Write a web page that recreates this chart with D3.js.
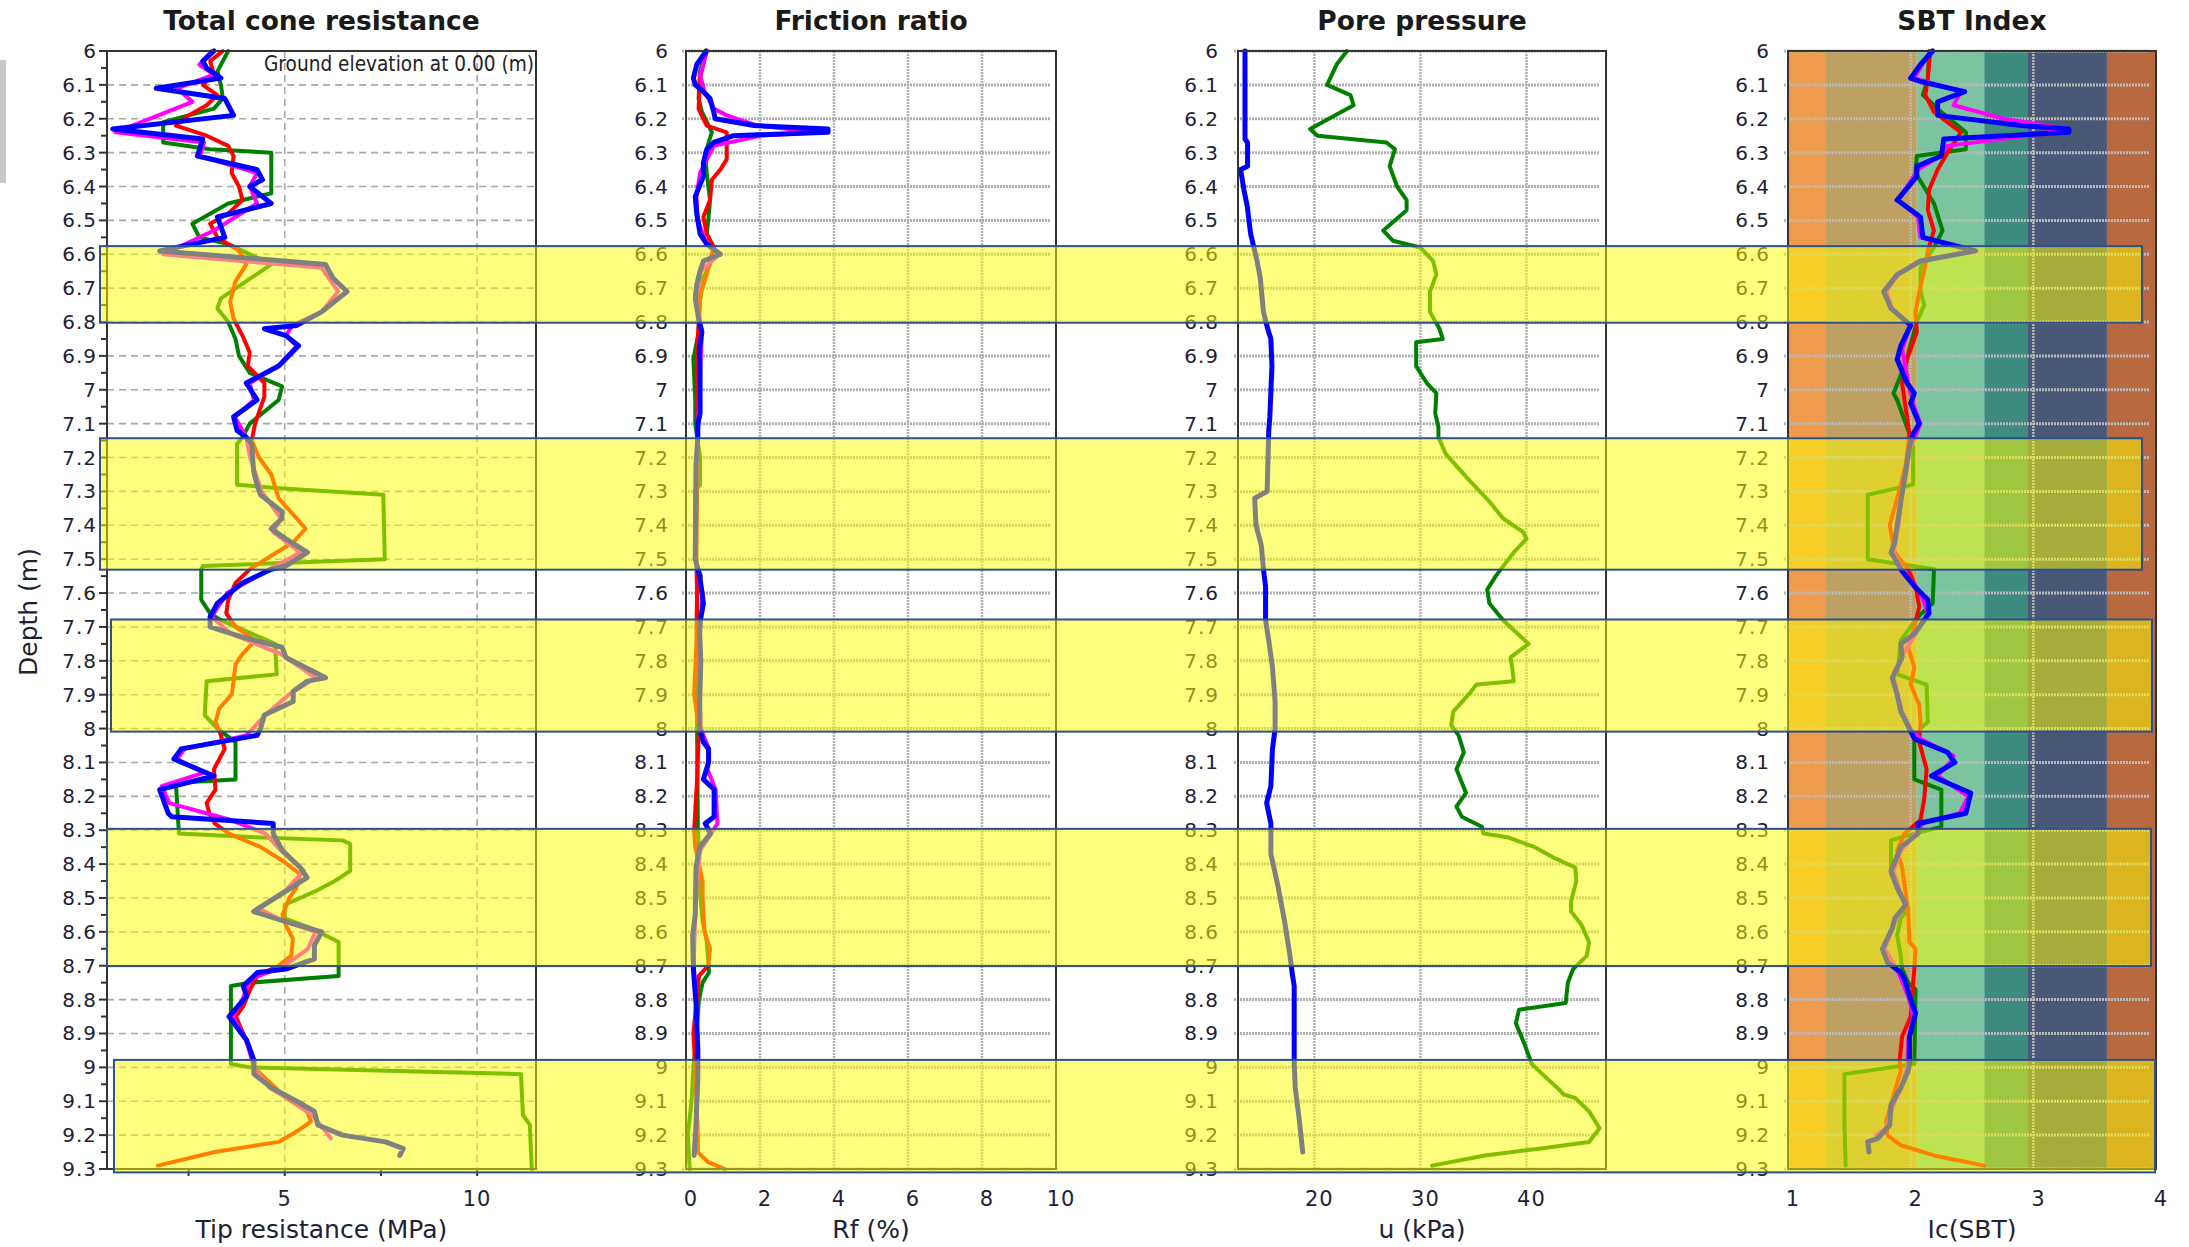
<!DOCTYPE html>
<html><head><meta charset="utf-8">
<script src="https://cdn.jsdelivr.net/npm/d3@7"></script>
<style>
body{margin:0;background:#fff;}
svg{display:block;}
text{font-family:"DejaVu Sans",Verdana,sans-serif;}
</style>
</head><body>
<script>
// ---------------- DATA ----------------
const depthDomain = [6, 9.3];
const depthTicks = [6,6.1,6.2,6.3,6.4,6.5,6.6,6.7,6.8,6.9,7,7.1,7.2,7.3,7.4,7.5,7.6,7.7,7.8,7.9,8,8.1,8.2,8.3,8.4,8.5,8.6,8.7,8.8,8.9,9,9.1,9.2,9.3];
const depthMinorTicks = [6.05,6.15,6.25,6.35,6.45,6.55,6.65,6.75,6.85,6.95,7.05,7.15,7.25,7.35,7.45,7.55,7.65,7.75,7.85,7.95,8.05,8.15,8.25,8.35,8.45,8.55,8.65,8.75,8.85,8.95,9.05,9.15,9.25];

const panelTitles = ["Total cone resistance","Friction ratio","Pore pressure","SBT Index"];
const axisTitles = ["Tip resistance (MPa)","Rf (%)","u (kPa)","Ic(SBT)"];
const noteText = "Ground elevation at 0.00 (m)";

const qtDomain = [0.38, 11.53];
const qtTickLabels = [5, 10];
const qtTickMarks = [2.5, 5, 7.5, 10];
const rfDomain = [0, 10];
const rfTickLabels = [0, 2, 4, 6, 8, 10];
const uDomain = [12.8, 47.5];
const uTickLabels = [20, 30, 40];
const icDomain = [1, 4];
const icTickLabels = [1, 2, 3, 4];

// SBT zone boundaries (Ic)
const icZoneBounds = [1, 1.31, 2.05, 2.6, 2.95, 3.6, 4];

// highlighted layers [top depth, bottom depth]
const layers = [[6.576,6.802],[7.143,7.531],[7.678,8.009],[8.296,8.701],[8.978,9.310]];

// Total cone resistance (MPa) [depth, value]
const qtGreen = [[6.00,3.53],[6.06,3.25],[6.10,3.34],[6.14,3.39],[6.17,3.16],[6.21,1.84],[6.27,1.84],[6.29,3.06],[6.30,4.65],[6.42,4.65],[6.45,3.53],[6.51,2.60],[6.55,2.78],[6.57,3.53],[6.63,4.65],[6.73,3.34],[6.76,3.25],[6.80,3.53],[6.85,3.72],[6.90,3.81],[6.95,4.09],[6.99,4.93],[7.03,4.84],[7.10,4.09],[7.14,3.90],[7.16,3.76],[7.28,3.76],[7.29,4.75],[7.31,7.56],[7.50,7.60],[7.52,2.87],[7.53,2.83],[7.62,2.83],[7.66,3.06],[7.68,3.34],[7.75,4.75],[7.84,4.79],[7.86,2.97],[7.96,2.92],[8.00,3.25],[8.04,3.72],[8.15,3.72],[8.16,2.17],[8.31,2.25],[8.32,4.10],[8.33,6.50],[8.34,6.70],[8.42,6.70],[8.45,6.30],[8.48,5.80],[8.52,5.00],[8.56,5.00],[8.59,5.70],[8.63,6.40],[8.73,6.40],[8.75,4.10],[8.76,3.60],[8.99,3.60],[9.00,4.10],[9.02,11.14],[9.14,11.19],[9.17,11.37],[9.30,11.42]];
const qtRed = [[6.00,3.39],[6.03,3.06],[6.07,3.16],[6.10,2.87],[6.13,3.25],[6.16,2.97],[6.19,2.50],[6.22,2.17],[6.25,2.97],[6.28,3.53],[6.31,3.67],[6.36,3.62],[6.40,3.81],[6.44,3.90],[6.48,3.53],[6.51,3.06],[6.55,3.25],[6.59,3.81],[6.63,4.00],[6.68,3.72],[6.74,3.58],[6.79,3.67],[6.84,3.90],[6.89,4.09],[6.93,4.04],[6.98,4.47],[7.02,4.47],[7.10,4.23],[7.15,4.14],[7.20,4.33],[7.25,4.65],[7.32,4.84],[7.38,5.31],[7.41,5.54],[7.45,5.22],[7.49,4.65],[7.53,4.09],[7.57,3.72],[7.62,3.53],[7.66,3.48],[7.70,3.72],[7.74,4.23],[7.78,3.90],[7.81,3.72],[7.86,3.67],[7.90,3.62],[7.94,3.30],[7.98,3.20],[8.02,3.34],[8.06,3.44],[8.12,3.16],[8.18,3.20],[8.22,2.97],[8.25,3.04],[8.28,3.18],[8.31,3.55],[8.35,4.38],[8.39,4.94],[8.43,5.40],[8.47,5.30],[8.50,5.12],[8.55,4.94],[8.58,5.03],[8.62,5.21],[8.67,5.17],[8.70,4.84],[8.73,4.29],[8.77,4.10],[8.82,3.92],[8.85,3.73],[8.90,3.92],[8.95,4.10],[9.00,4.20],[9.05,4.66],[9.09,5.03],[9.13,5.58],[9.16,5.68],[9.19,5.30],[9.22,4.84],[9.25,3.18],[9.29,1.70]];
const qtMagenta = [[6.00,3.10],[6.04,2.78],[6.07,3.16],[6.11,2.20],[6.15,2.60],[6.24,0.60],[6.27,2.90],[6.31,2.80],[6.36,4.28],[6.40,4.09],[6.45,4.28],[6.53,3.16],[6.60,1.85],[6.64,5.96],[6.71,6.39],[6.77,5.96],[6.81,5.20],[6.84,5.03],[6.87,5.31],[6.93,4.84],[6.98,4.09],[7.03,4.20],[7.08,3.70],[7.14,4.00],[7.20,4.10],[7.30,4.40],[7.38,4.90],[7.42,4.70],[7.48,5.40],[7.53,4.60],[7.60,3.50],[7.67,3.10],[7.72,3.60],[7.78,4.90],[7.85,5.80],[7.90,5.10],[7.96,4.50],[8.02,4.00],[8.06,2.40],[8.09,2.20],[8.13,2.90],[8.17,1.80],[8.22,2.00],[8.27,3.60],[8.31,4.50],[8.36,4.90],[8.42,5.50],[8.48,5.00],[8.53,4.30],[8.57,5.00],[8.60,5.80],[8.65,5.60],[8.70,5.00],[8.74,4.10],[8.80,3.90],[8.85,3.65],[8.92,4.00],[9.00,4.20],[9.06,4.60],[9.10,5.20],[9.14,5.70],[9.18,6.00],[9.21,6.20]];
const qtBlue = [[6.00,3.16],[6.03,2.87],[6.05,2.97],[6.08,3.34],[6.11,1.66],[6.14,3.44],[6.19,3.67],[6.23,0.53],[6.26,2.87],[6.31,2.73],[6.35,4.28],[6.38,4.42],[6.40,4.09],[6.45,4.65],[6.49,3.25],[6.55,3.44],[6.59,1.75],[6.63,6.06],[6.67,6.25],[6.71,6.62],[6.77,5.96],[6.81,5.31],[6.82,4.47],[6.84,5.03],[6.87,5.36],[6.93,4.84],[6.98,4.00],[7.03,4.28],[7.08,3.67],[7.12,3.76],[7.14,4.00],[7.16,4.14],[7.24,4.19],[7.28,4.28],[7.31,4.37],[7.36,4.93],[7.38,4.93],[7.41,4.65],[7.44,5.03],[7.48,5.59],[7.52,5.03],[7.53,4.65],[7.57,3.90],[7.63,3.25],[7.67,3.06],[7.70,3.06],[7.73,3.90],[7.76,4.93],[7.79,5.03],[7.85,6.06],[7.86,5.59],[7.89,5.22],[7.92,5.22],[7.96,4.47],[8.00,4.37],[8.02,4.28],[8.06,2.31],[8.09,2.12],[8.14,3.16],[8.18,1.75],[8.24,1.94],[8.25,1.97],[8.26,2.06],[8.28,4.70],[8.31,4.70],[8.36,4.94],[8.41,5.40],[8.44,5.58],[8.48,5.03],[8.54,4.19],[8.57,5.03],[8.60,5.96],[8.64,5.77],[8.68,5.77],[8.71,5.03],[8.72,4.29],[8.76,3.92],[8.79,4.01],[8.85,3.55],[8.92,4.01],[8.98,4.20],[9.02,4.20],[9.06,4.66],[9.10,5.31],[9.13,5.77],[9.17,5.86],[9.20,6.50],[9.22,7.62],[9.24,8.08],[9.26,7.99]];

// Friction ratio (%)
const rfGreen = [[6.00,0.52],[6.06,0.38],[6.14,0.34],[6.18,0.43],[6.24,0.70],[6.27,0.61],[6.31,0.52],[6.36,0.56],[6.44,0.65],[6.49,0.61],[6.54,0.56],[6.58,0.75],[6.63,0.65],[6.67,0.47],[6.74,0.38],[6.83,0.34],[6.91,0.20],[7.03,0.25],[7.10,0.25],[7.20,0.38],[7.28,0.38],[7.30,0.25],[7.50,0.25],[7.55,0.40],[7.60,0.30],[8.00,0.30],[8.30,0.32],[8.35,0.35],[8.45,0.35],[8.57,0.45],[8.62,0.55],[8.68,0.60],[8.72,0.62],[8.75,0.45],[8.80,0.35],[8.95,0.25],[9.00,0.20],[9.10,0.15],[9.20,0.05],[9.30,0.10]];
const rfRed = [[6.00,0.56],[6.08,0.38],[6.17,0.34],[6.22,0.56],[6.24,1.10],[6.32,1.10],[6.35,0.93],[6.38,0.70],[6.44,0.65],[6.49,0.47],[6.54,0.56],[6.58,0.75],[6.62,0.65],[6.66,0.56],[6.72,0.38],[6.80,0.34],[6.94,0.29],[7.10,0.32],[7.30,0.30],[7.50,0.28],[7.60,0.30],[7.75,0.28],[7.90,0.22],[8.00,0.35],[8.15,0.30],[8.30,0.22],[8.35,0.25],[8.45,0.45],[8.50,0.45],[8.60,0.50],[8.65,0.65],[8.70,0.60],[8.73,0.35],[8.90,0.20],[9.00,0.25],[9.20,0.32],[9.25,0.32],[9.28,0.60],[9.30,1.05]];
const rfMagenta = [[6.00,0.56],[6.07,0.38],[6.12,0.50],[6.17,0.75],[6.19,1.10],[6.22,1.93],[6.24,3.56],[6.25,2.00],[6.28,0.75],[6.36,0.38],[6.43,0.28],[6.50,0.32],[6.57,0.56],[6.60,0.90],[6.65,0.40],[6.73,0.27],[6.83,0.43],[6.95,0.38],[7.10,0.33],[7.30,0.27],[7.50,0.26],[7.60,0.45],[7.70,0.38],[7.90,0.37],[8.00,0.40],[8.06,0.62],[8.12,0.58],[8.18,0.80],[8.28,0.85],[8.31,0.68],[8.36,0.38],[8.50,0.26],[8.70,0.21],[8.80,0.27],[9.00,0.32],[9.20,0.28]];
const rfBlue = [[6.00,0.55],[6.04,0.29],[6.08,0.20],[6.10,0.25],[6.12,0.47],[6.14,0.65],[6.18,0.75],[6.20,0.79],[6.22,1.84],[6.23,3.84],[6.24,3.84],[6.25,1.29],[6.27,0.75],[6.29,0.56],[6.33,0.47],[6.37,0.47],[6.43,0.25],[6.48,0.29],[6.54,0.38],[6.57,0.56],[6.60,0.93],[6.62,0.47],[6.65,0.38],[6.69,0.29],[6.73,0.25],[6.79,0.34],[6.83,0.43],[6.88,0.36],[6.94,0.38],[7.07,0.38],[7.10,0.32],[7.14,0.32],[7.22,0.27],[7.50,0.25],[7.55,0.37],[7.63,0.47],[7.68,0.39],[7.72,0.37],[7.80,0.40],[7.92,0.37],[8.00,0.37],[8.04,0.47],[8.06,0.61],[8.10,0.61],[8.15,0.47],[8.18,0.76],[8.26,0.76],[8.28,0.52],[8.31,0.66],[8.35,0.37],[8.41,0.27],[8.55,0.25],[8.61,0.18],[8.71,0.20],[8.74,0.22],[8.81,0.27],[8.95,0.32],[9.03,0.32],[9.17,0.27],[9.26,0.22]];

// Pore pressure (kPa)
const uGreen = [[6.00,23.07],[6.04,22.10],[6.08,21.50],[6.10,21.20],[6.13,23.40],[6.16,23.70],[6.23,19.60],[6.25,20.30],[6.27,26.80],[6.29,27.60],[6.34,27.10],[6.40,27.80],[6.44,28.70],[6.47,28.70],[6.53,26.50],[6.56,27.40],[6.58,30.00],[6.62,31.20],[6.66,31.50],[6.71,30.90],[6.77,30.90],[6.82,31.80],[6.85,32.10],[6.86,29.60],[6.93,29.60],[6.98,30.60],[7.01,31.50],[7.07,31.40],[7.11,31.70],[7.14,31.70],[7.19,32.40],[7.26,34.40],[7.33,36.50],[7.38,37.80],[7.42,39.70],[7.44,40.00],[7.48,38.80],[7.55,37.10],[7.59,36.30],[7.63,36.50],[7.68,37.80],[7.75,40.20],[7.79,38.50],[7.83,38.70],[7.86,38.80],[7.87,35.30],[7.89,34.80],[7.95,33.10],[7.99,32.90],[8.02,33.60],[8.07,34.10],[8.12,33.40],[8.19,34.30],[8.23,33.40],[8.26,33.90],[8.29,35.80],[8.31,35.95],[8.32,38.10],[8.35,40.80],[8.38,42.50],[8.41,44.60],[8.45,44.70],[8.51,44.20],[8.54,44.20],[8.58,45.20],[8.63,45.90],[8.67,45.70],[8.71,44.40],[8.75,43.90],[8.81,43.70],[8.83,39.30],[8.87,39.00],[8.93,39.80],[8.99,40.50],[9.02,41.50],[9.06,42.90],[9.08,43.50],[9.09,44.60],[9.13,45.90],[9.18,46.90],[9.22,45.90],[9.24,41.20],[9.26,36.10],[9.29,31.10]];
const uBlue = [[6.00,13.46],[6.26,13.46],[6.27,13.70],[6.34,13.70],[6.35,13.05],[6.41,13.36],[6.46,13.68],[6.54,13.99],[6.58,14.30],[6.62,14.60],[6.67,14.90],[6.77,15.20],[6.82,15.60],[6.85,15.90],[6.93,16.00],[7.08,15.80],[7.12,15.70],[7.30,15.55],[7.32,14.37],[7.40,14.50],[7.46,15.00],[7.53,15.20],[7.58,15.40],[7.68,15.40],[7.74,15.70],[7.82,16.05],[7.92,16.30],[8.00,16.30],[8.06,16.05],[8.17,15.90],[8.22,15.50],[8.28,15.90],[8.37,15.90],[8.47,16.60],[8.57,17.20],[8.67,17.70],[8.72,17.90],[8.76,18.10],[8.99,18.10],[9.06,18.20],[9.16,18.60],[9.25,18.90]];

// SBT index Ic
const icGreen = [[6.00,2.15],[6.08,2.14],[6.13,2.10],[6.18,2.25],[6.24,2.45],[6.29,2.45],[6.31,2.05],[6.36,2.04],[6.45,2.19],[6.53,2.26],[6.58,2.19],[6.64,2.08],[6.71,2.08],[6.75,2.11],[6.80,2.05],[6.88,1.99],[6.92,1.96],[7.01,1.86],[7.03,1.89],[7.13,1.99],[7.17,2.02],[7.28,2.02],[7.31,1.65],[7.50,1.65],[7.53,2.19],[7.63,2.18],[7.67,2.06],[7.74,1.92],[7.84,1.89],[7.87,2.13],[7.98,2.14],[8.00,2.08],[8.04,2.03],[8.15,2.03],[8.18,2.25],[8.29,2.25],[8.31,2.03],[8.33,1.84],[8.43,1.84],[8.49,1.92],[8.53,1.98],[8.56,1.92],[8.61,1.89],[8.67,1.92],[8.71,1.93],[8.75,1.98],[8.77,2.04],[8.99,2.03],[9.02,1.46],[9.17,1.46],[9.29,1.47]];
const icRed = [[6.00,2.16],[6.08,2.14],[6.13,2.12],[6.18,2.19],[6.24,2.41],[6.30,2.30],[6.35,2.22],[6.41,2.15],[6.47,2.14],[6.53,2.19],[6.59,2.14],[6.65,2.11],[6.71,2.07],[6.77,2.04],[6.83,2.05],[6.91,1.97],[6.98,1.93],[7.03,1.95],[7.13,1.99],[7.22,1.96],[7.28,1.92],[7.40,1.83],[7.48,1.87],[7.53,1.98],[7.58,2.04],[7.64,2.07],[7.70,2.03],[7.76,1.98],[7.82,2.03],[7.87,2.00],[7.93,2.07],[7.98,2.08],[8.04,2.07],[8.12,2.13],[8.21,2.11],[8.27,2.08],[8.31,1.95],[8.36,1.89],[8.41,1.93],[8.46,1.95],[8.54,1.98],[8.63,1.99],[8.65,2.04],[8.71,2.03],[8.75,2.02],[8.85,2.00],[8.91,1.93],[8.98,1.91],[9.01,1.92],[9.07,1.87],[9.16,1.80],[9.20,1.81],[9.23,1.92],[9.26,2.19],[9.29,2.60]];
const icMagenta = [[6.00,2.16],[6.08,2.03],[6.12,2.41],[6.16,2.35],[6.20,2.76],[6.23,3.28],[6.25,2.95],[6.28,2.30],[6.31,2.24],[6.35,2.06],[6.44,1.90],[6.49,2.06],[6.55,2.08],[6.59,2.50],[6.62,2.06],[6.66,1.90],[6.71,1.80],[6.76,1.85],[6.81,2.00],[6.88,1.93],[6.98,1.98],[7.04,2.02],[7.10,2.08],[7.17,2.00],[7.30,1.93],[7.40,1.90],[7.48,1.86],[7.53,1.93],[7.60,2.08],[7.66,2.14],[7.72,2.04],[7.78,1.94],[7.85,1.86],[7.95,1.93],[8.00,2.00],[8.03,2.08],[8.08,2.35],[8.10,2.32],[8.14,2.22],[8.20,2.47],[8.25,2.40],[8.28,2.10],[8.31,2.04],[8.36,1.92],[8.42,1.86],[8.52,1.95],[8.58,1.86],[8.65,1.79],[8.72,1.90],[8.80,1.99],[8.85,2.02],[8.92,1.98],[9.00,1.97],[9.06,1.92],[9.12,1.85],[9.18,1.80],[9.20,1.72]];
const icBlue = [[6.00,2.18],[6.04,2.08],[6.08,2.00],[6.09,2.08],[6.12,2.44],[6.15,2.22],[6.19,2.22],[6.22,2.90],[6.23,3.29],[6.24,3.29],[6.26,2.27],[6.31,2.25],[6.34,2.05],[6.37,2.05],[6.44,1.89],[6.49,2.08],[6.55,2.10],[6.59,2.53],[6.62,2.08],[6.66,1.89],[6.71,1.78],[6.76,1.84],[6.81,2.00],[6.87,1.92],[6.91,1.89],[6.98,1.97],[7.01,2.03],[7.04,2.00],[7.10,2.07],[7.13,2.02],[7.17,1.99],[7.24,1.96],[7.33,1.92],[7.40,1.89],[7.45,1.87],[7.48,1.84],[7.51,1.89],[7.53,1.92],[7.58,2.03],[7.62,2.14],[7.66,2.15],[7.68,2.11],[7.72,2.03],[7.75,1.92],[7.79,1.93],[7.85,1.85],[7.90,1.89],[7.95,1.92],[8.00,1.99],[8.03,2.03],[8.07,2.30],[8.10,2.36],[8.14,2.17],[8.19,2.49],[8.25,2.45],[8.28,2.06],[8.31,2.06],[8.35,1.92],[8.42,1.84],[8.47,1.89],[8.52,1.96],[8.56,1.87],[8.59,1.85],[8.65,1.77],[8.69,1.81],[8.72,1.92],[8.74,1.95],[8.80,2.00],[8.84,2.04],[8.91,1.99],[8.99,1.99],[9.01,1.98],[9.06,1.92],[9.11,1.84],[9.17,1.83],[9.21,1.73],[9.22,1.65],[9.25,1.66]];

// ---------------- STYLE / LAYOUT ----------------
const W = 2189, H = 1247;
const TOP = 51, BOTTOM = 1169;
const C = {green:"#008000", red:"#ff0000", magenta:"#ff00ff", blue:"#0000ff"};
const zoneColors = ["#ee9b4c","#bfa063","#7cc4a0","#3e8c80","#4a5878","#b8693f"];

const svg = d3.select("body").append("svg").attr("width", W).attr("height", H);
const y = d3.scaleLinear().domain(depthDomain).range([TOP, BOTTOM]);
const fmt = d => String(+d.toFixed(2));

const panels = [
  {title: panelTitles[0], axis: axisTitles[0], x: d3.scaleLinear().domain(qtDomain).range([107, 536]),
   labelRight: 97, grid: "dash", vgrid: [5, 10], tickLabels: qtTickLabels, tdx: 0,
   series: [[qtGreen,C.green,4],[qtRed,C.red,4],[qtMagenta,C.magenta,4],[qtBlue,C.blue,5]]},
  {title: panelTitles[1], axis: axisTitles[1], x: d3.scaleLinear().domain(rfDomain).range([686, 1056]),
   labelRight: 669, grid: "dot", vgrid: [2,4,6,8], tickLabels: rfTickLabels, tdx: 5,
   series: [[rfGreen,C.green,4],[rfRed,C.red,4],[rfMagenta,C.magenta,4],[rfBlue,C.blue,5]]},
  {title: panelTitles[2], axis: axisTitles[2], x: d3.scaleLinear().domain(uDomain).range([1238, 1606]),
   labelRight: 1219, grid: "dot", vgrid: [20,30,40], tickLabels: uTickLabels, tdx: 5,
   series: [[uGreen,C.green,4],[uBlue,C.blue,5]]},
  {title: panelTitles[3], axis: axisTitles[3], x: d3.scaleLinear().domain(icDomain).range([1788, 2156]),
   labelRight: 1770, grid: "dot", vgrid: [2,3], tickLabels: icTickLabels, tdx: 5, zones: true,
   series: [[icGreen,C.green,4],[icRed,C.red,4],[icMagenta,C.magenta,4],[icBlue,C.blue,5]]}
];

// left grey strip artifact
svg.append("rect").attr("x",0).attr("y",60).attr("width",6).attr("height",123).attr("fill","#c9c9c9");

panels.forEach((p, i) => {
  const g = svg.append("g");
  const [x0, x1] = p.x.range();

  // title
  g.append("text").attr("x", (x0 + x1) / 2).attr("y", 30).attr("text-anchor", "middle")
    .attr("font-size", 26.5).attr("font-weight", "bold").attr("fill", "#1a1a1a").text(p.title);

  // SBT zones
  if (p.zones) {
    g.selectAll("rect.zone").data(d3.range(icZoneBounds.length - 1)).join("rect")
      .attr("x", k => p.x(icZoneBounds[k])).attr("y", TOP)
      .attr("width", k => p.x(icZoneBounds[k + 1]) - p.x(icZoneBounds[k]))
      .attr("height", BOTTOM - TOP).attr("fill", k => zoneColors[k]);
  }

  // grid
  const gridAttrs = p.grid === "dash"
    ? {stroke: "#a8a8a8", w: 1.6, dash: "7,5"}
    : {stroke: p.zones ? "#b9b9b9" : "#b0b0b0", w: 3, dash: "2,1"};
  g.selectAll("line.hg").data(depthTicks).join("line")
    .attr("x1", x0 - (p.grid === "dash" ? 0 : 4)).attr("x2", x1 - (p.grid === "dash" ? 0 : 6))
    .attr("y1", d => y(d)).attr("y2", d => y(d))
    .attr("stroke", gridAttrs.stroke).attr("stroke-width", gridAttrs.w).attr("stroke-dasharray", gridAttrs.dash);
  g.selectAll("line.vg").data(p.vgrid).join("line")
    .attr("x1", d => p.x(d)).attr("x2", d => p.x(d)).attr("y1", TOP).attr("y2", BOTTOM)
    .attr("stroke", gridAttrs.stroke).attr("stroke-width", p.grid === "dash" ? 1.6 : 2.5)
    .attr("stroke-dasharray", p.grid === "dash" ? "7,5" : "2,1");

  // data lines
  const line = d3.line().x(d => p.x(d[1])).y(d => y(d[0]));
  p.series.forEach(([data, col, w]) => {
    g.append("path").datum(data).attr("d", line).attr("fill", "none")
      .attr("stroke", col).attr("stroke-width", w).attr("stroke-linejoin", "round").attr("stroke-linecap", "round");
  });

  // frame
  g.append("rect").attr("x", x0).attr("y", TOP).attr("width", x1 - x0).attr("height", BOTTOM - TOP)
    .attr("fill", "none").attr("stroke", "#333").attr("stroke-width", 2);

  // depth tick labels
  g.selectAll("text.yl").data(depthTicks).join("text")
    .attr("x", p.labelRight).attr("y", d => y(d) + 7).attr("text-anchor", "end")
    .attr("font-size", 20).attr("letter-spacing", 1).attr("fill", "#1e2236").text(fmt);

  // panel 1 tick marks
  if (i === 0) {
    g.selectAll("line.yt").data(depthTicks).join("line")
      .attr("x1", x0 - 8).attr("x2", x0).attr("y1", d => y(d)).attr("y2", d => y(d))
      .attr("stroke", "#333").attr("stroke-width", 2);
    g.selectAll("line.ym").data(depthMinorTicks).join("line")
      .attr("x1", x0 - 6).attr("x2", x0).attr("y1", d => y(d)).attr("y2", d => y(d))
      .attr("stroke", "#333").attr("stroke-width", 2);
    g.selectAll("line.xt").data(qtTickMarks).join("line")
      .attr("x1", d => p.x(d)).attr("x2", d => p.x(d)).attr("y1", BOTTOM).attr("y2", BOTTOM + 7)
      .attr("stroke", "#333").attr("stroke-width", 2);
    g.append("text").attr("x", x1 - 2).attr("y", 71).attr("text-anchor", "end")
      .attr("font-size", 22).attr("fill", "#222").attr("textLength", 270).attr("lengthAdjust", "spacingAndGlyphs")
      .text(noteText);
  }

  // x tick labels
  g.selectAll("text.xl").data(p.tickLabels).join("text")
    .attr("x", d => p.x(d) + p.tdx).attr("y", 1206).attr("text-anchor", "middle")
    .attr("font-size", 21).attr("letter-spacing", 1).attr("fill", "#1e2236").text(d => d);

  // axis title
  g.append("text").attr("x", (x0 + x1) / 2).attr("y", 1238).attr("text-anchor", "middle")
    .attr("font-size", 25).attr("fill", "#1e2236").text(p.axis);
});

// y axis title
svg.append("text").attr("transform", "translate(37,612) rotate(-90)").attr("text-anchor", "middle")
  .attr("font-size", 25).attr("fill", "#1e2236").text("Depth (m)");

// highlighted layers overlay (semi-transparent yellow on top)
const p1x = panels[0].x, p4x = panels[3].x;
const bandInsets = [[-7,-14],[-7,-14],[4,-4],[0,-5],[7,-1]];
svg.append("g").selectAll("rect").data(layers).join("rect")
  .attr("x", (d, k) => p1x.range()[0] + bandInsets[k][0])
  .attr("y", d => y(d[0]))
  .attr("width", (d, k) => (p4x.range()[1] + bandInsets[k][1]) - (p1x.range()[0] + bandInsets[k][0]))
  .attr("height", d => y(d[1]) - y(d[0]))
  .attr("fill", "#ffff00").attr("fill-opacity", 0.5)
  .attr("stroke", "#2e5090").attr("stroke-width", 2);
</script>
</body></html>
